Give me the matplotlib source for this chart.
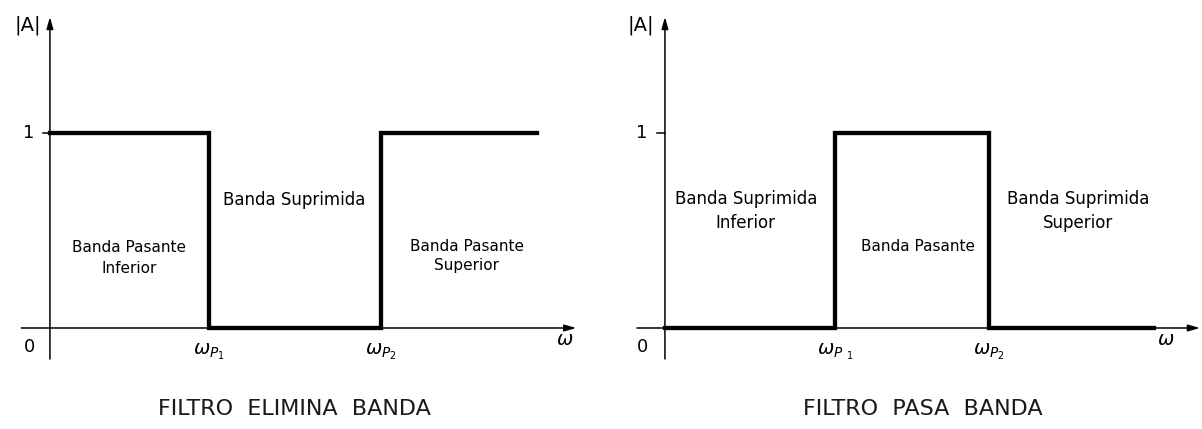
import matplotlib
matplotlib.use('Agg')
import matplotlib.pyplot as plt

# band-stop filter (left): step corners, amplitude after each corner
stop_x = [0.0, 1.0, 2.08, 3.06]
stop_y = [1, 0, 1, 1]
stop_edges = [1.0, 2.08]
stop_labels = [r'$\omega_{P_1}$', r'$\omega_{P_2}$']

# band-pass filter (right)
pass_x = [0.0, 1.0, 1.906, 2.876]
pass_y = [0, 1, 0, 0]
pass_edges = [1.0, 1.906]
pass_labels = [r'$\omega_{P\ _1}$', r'$\omega_{P_2}$']

fig = plt.figure(figsize=(12.02, 4.29), dpi=100)
ax1 = fig.add_axes([0, 0, 600 / 1202, 1])
ax2 = fig.add_axes([600 / 1202, 0, 602 / 1202, 1])

ax1.set_xlim(-0.314, 3.459)
ax2.set_xlim(-0.382, 3.159)
for ax in (ax1, ax2):
    ax.set_ylim(-0.518, 1.682)
    ax.axis('off')

lw_axis = 1.1
lw_sig = 3.1
fs = 12


def draw_axes(ax, x0, x1, title, title_x):
    # x axis with arrow
    ax.annotate('', xy=(x1, 0), xytext=(x0, 0),
                arrowprops=dict(arrowstyle='-|>,head_length=0.7,head_width=0.2',
                                lw=lw_axis, color='black', shrinkA=0, shrinkB=0))
    # y axis with arrow
    ax.annotate('', xy=(0, 1.595), xytext=(0, -0.159),
                arrowprops=dict(arrowstyle='-|>,head_length=0.7,head_width=0.2',
                                lw=lw_axis, color='black', shrinkA=0, shrinkB=0))
    ax.plot([-0.045, 0], [1, 1], color='black', lw=lw_axis)
    ax.text(-0.14, 1.554, '|A|', ha='center', va='center', fontsize=14)
    ax.text(-0.135, 1, '1', ha='center', va='center', fontsize=13)
    ax.text(-0.13, -0.097, '0', ha='center', va='center', fontsize=13)
    ax.text(title_x, -0.415, title, ha='center', va='center', fontsize=16,
            color='#1a1a1a')


draw_axes(ax1, -0.18, 3.31, 'FILTRO  ELIMINA  BANDA', 1.54)
draw_axes(ax2, -0.165, 3.147, 'FILTRO  PASA  BANDA', 1.518)

ax1.step(stop_x, stop_y, where='post', color='black', lw=lw_sig, solid_joinstyle='miter')
ax2.step(pass_x, pass_y, where='post', color='black', lw=lw_sig, solid_joinstyle='miter')

for e, lab in zip(stop_edges, stop_labels):
    ax1.text(e, -0.12, lab, ha='center', va='center', fontsize=14)
for e, lab in zip(pass_edges, pass_labels):
    ax2.text(e, -0.12, lab, ha='center', va='center', fontsize=14)
ax1.text(3.24, -0.06, r'$\omega$', ha='center', va='center', fontsize=14)
ax2.text(2.947, -0.06, r'$\omega$', ha='center', va='center', fontsize=14)

# region labels
ax1.text(1.535, 0.656, 'Banda Suprimida', ha='center', va='center', fontsize=fs)
ax1.text(0.5, 0.36, 'Banda Pasante\nInferior', ha='center', va='center', fontsize=fs - 1,
         linespacing=1.5)
ax1.text(2.62, 0.37, 'Banda Pasante\nSuperior', ha='center', va='center', fontsize=fs - 1,
         linespacing=1.3)

ax2.text(0.476, 0.6, 'Banda Suprimida\nInferior', ha='center', va='center', fontsize=fs,
         linespacing=1.4)
ax2.text(1.488, 0.42, 'Banda Pasante', ha='center', va='center', fontsize=fs - 1)
ax2.text(2.43, 0.6, 'Banda Suprimida\nSuperior', ha='center', va='center', fontsize=fs,
         linespacing=1.4)

fig.savefig('out.png', dpi=100)
